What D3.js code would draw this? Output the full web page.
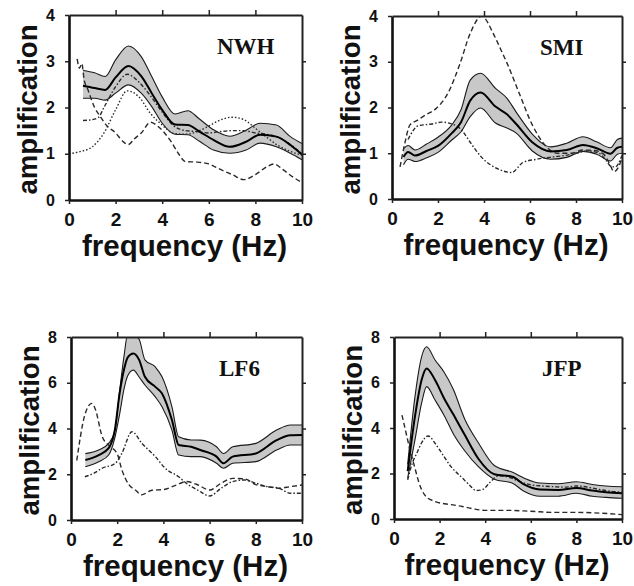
<!DOCTYPE html>
<html><head><meta charset="utf-8">
<script src="https://cdn.jsdelivr.net/npm/d3@7"></script>
<style>body{margin:0;background:#fff}svg{display:block}</style>
</head><body>
<svg id="c" width="634" height="586"></svg>
<script>
// ---------- tick labels ----------
const xTickValues = [0, 2, 4, 6, 8, 10];
const xTopTicks = [2, 4, 6, 8];
const yTicksSmall = [0, 1, 2, 3, 4];
const yTicksLarge = [0, 2, 4, 6, 8];
const stationNames = ["NWH", "SMI", "LF6", "JFP"];
const xTitle = "frequency (Hz)";
const yTitle = "amplification";

// ---------- NWH ----------
const nwhFreq  = [0.6, 1.1, 1.55, 2.0, 2.55, 3.1, 3.55, 4.0, 4.55, 5.1, 5.6, 6.2, 6.9, 7.6, 8.2, 8.9, 9.5, 10];
const nwhUpper = [2.8, 2.75, 2.67, 3.03, 3.33, 3.1, 2.67, 2.23, 1.86, 1.93, 1.75, 1.52, 1.38, 1.51, 1.66, 1.62, 1.37, 1.22];
const nwhMean  = [2.47, 2.42, 2.38, 2.65, 2.9, 2.68, 2.31, 1.95, 1.63, 1.62, 1.48, 1.3, 1.15, 1.26, 1.41, 1.37, 1.19, 0.98];
const nwhLower = [2.2, 2.2, 2.16, 2.31, 2.49, 2.31, 2.02, 1.66, 1.42, 1.41, 1.27, 1.08, 1.01, 1.08, 1.23, 1.15, 1.01, 0.87];
const nwhDotFreq = [0, 0.5, 1, 1.5, 2, 2.5, 3, 3.5, 4, 4.5, 5, 5.5, 6, 6.5, 7, 7.5, 8, 8.5, 9, 9.5, 10];
const nwhDot     = [1.0, 1.05, 1.15, 1.45, 1.95, 2.36, 2.23, 1.87, 1.62, 1.44, 1.42, 1.48, 1.6, 1.73, 1.79, 1.74, 1.55, 1.35, 1.17, 1.05, 0.97];
const nwhDashAFreq = [0.35, 0.45, 0.55, 0.65, 0.8, 1.1, 1.35, 1.6, 2.0, 2.35, 2.55, 2.8, 3.1, 3.5, 3.8, 4.1, 4.4, 4.7, 5.0, 5.5, 6.0, 6.5, 7.0, 7.5, 8.0, 8.5, 8.8, 9.2, 9.6, 10];
const nwhDashA     = [3.05, 2.85, 2.95, 2.6, 2.4, 2.0, 1.8, 1.62, 1.45, 1.25, 1.2, 1.32, 1.45, 1.68, 1.6, 1.45, 1.25, 1.0, 0.83, 0.82, 0.78, 0.66, 0.55, 0.44, 0.55, 0.72, 0.78, 0.65, 0.5, 0.38];
const nwhDashBFreq = [0.6, 0.9, 1.25, 1.5, 2.0, 2.5, 3.0, 3.5, 4.0, 4.5, 5.0, 5.5, 6.0, 6.5, 7.0, 7.5, 8.0, 8.5, 9.0, 9.5, 10];
const nwhDashB     = [1.72, 1.73, 1.78, 2.0, 2.45, 2.72, 2.55, 2.25, 1.9, 1.6, 1.5, 1.48, 1.45, 1.48, 1.5, 1.5, 1.45, 1.42, 1.35, 1.2, 1.0];

// ---------- SMI ----------
const smiFreq  = [0.5, 0.7, 1.0, 1.5, 2.0, 2.6, 3.0, 3.4, 3.85, 4.5, 5.0, 5.4, 6.1, 6.9, 7.6, 8.3, 8.9, 9.5, 9.8, 10];
const smiUpper = [1.1, 1.17, 1.07, 1.2, 1.35, 1.62, 1.95, 2.6, 2.75, 2.42, 2.2, 1.9, 1.42, 1.14, 1.22, 1.36, 1.25, 1.12, 1.3, 1.33];
const smiMean  = [0.92, 1.03, 0.95, 1.05, 1.16, 1.44, 1.68, 2.15, 2.33, 2.02, 1.85, 1.64, 1.24, 1.04, 1.07, 1.18, 1.11, 0.99, 1.12, 1.14];
const smiLower = [0.75, 0.87, 0.82, 0.9, 1.02, 1.29, 1.47, 1.8, 1.99, 1.66, 1.55, 1.44, 1.05, 0.87, 0.91, 1.04, 0.98, 0.83, 0.98, 1.0];
const smiDashAFreq = [0.35, 0.55, 0.78, 1.1, 1.5, 1.9, 2.45, 2.95, 3.4, 3.9, 4.4, 4.7, 5.0, 5.5, 6.1, 6.7, 7.2, 7.8, 8.3, 8.8, 9.2, 9.45, 9.65, 9.85, 10];
const smiDashA     = [0.7, 1.2, 1.62, 1.72, 1.85, 1.97, 2.33, 2.95, 3.62, 4.0, 3.62, 3.3, 2.97, 2.35, 1.62, 1.15, 1.0, 1.0, 1.07, 1.06, 0.98, 0.78, 0.6, 0.7, 0.9];
const smiDashBFreq = [0.7, 0.78, 1.14, 1.73, 2.16, 2.8, 3.1, 3.4, 3.9, 4.6, 5.2, 5.7, 6.3, 7.0, 7.5, 8.0, 8.5, 9.0, 9.3, 9.5, 9.7, 10];
const smiDashB     = [1.3, 1.38, 1.6, 1.64, 1.68, 1.6, 1.46, 1.24, 0.91, 0.66, 0.58, 0.8, 0.87, 0.92, 0.95, 1.0, 1.05, 1.0, 0.85, 0.72, 0.7, 0.95];

// ---------- LF6 ----------
const lf6Freq  = [0.62, 1.2, 1.63, 1.9, 2.1, 2.3, 2.45, 2.7, 2.95, 3.2, 3.65, 3.94, 4.37, 4.66, 5.2, 5.6, 6.3, 6.6, 7.0, 8.0, 8.9, 9.5, 10];
const lf6Upper = [2.9, 3.06, 3.35, 3.9, 5.6, 7.2, 8.1, 8.1, 7.9, 7.0, 6.69, 6.26, 4.95, 3.64, 3.5, 3.49, 3.2, 2.91, 3.2, 3.35, 3.93, 4.15, 4.15];
const lf6Mean  = [2.62, 2.84, 3.14, 3.95, 5.5, 6.6, 7.1, 7.28, 7.0, 6.26, 5.82, 5.53, 4.37, 3.28, 3.2, 3.06, 2.77, 2.48, 2.77, 2.91, 3.49, 3.71, 3.72];
const lf6Lower = [2.33, 2.55, 2.84, 3.6, 4.6, 5.75, 6.3, 6.55, 6.25, 5.9, 5.38, 4.95, 3.93, 2.84, 2.77, 2.77, 2.48, 2.26, 2.48, 2.55, 3.06, 3.28, 3.28];
const lf6DashAFreq = [0.25, 0.4, 0.6, 0.9, 1.05, 1.35, 1.65, 2.0, 2.2, 2.5, 2.8, 3.05, 3.5, 4.0, 4.5, 5.0, 5.5, 6.0, 6.5, 7.0, 7.5, 8.0, 8.5, 9.0, 9.5, 10];
const lf6DashA     = [2.6, 3.6, 4.6, 5.1, 4.85, 3.65, 3.25, 2.9, 2.2, 1.55, 1.3, 1.1, 1.3, 1.33, 1.5, 1.68, 1.53, 1.31, 1.61, 1.82, 1.8, 1.55, 1.46, 1.39, 1.46, 1.53];
const lf6DashBFreq = [0.6, 1.0, 1.34, 1.92, 2.2, 2.64, 3.07, 3.65, 4.08, 4.66, 5.0, 5.5, 6.0, 6.5, 7.0, 7.5, 8.0, 8.5, 9.0, 9.5, 10];
const lf6DashB     = [1.89, 2.05, 2.26, 2.48, 2.91, 3.86, 3.35, 2.77, 2.26, 1.89, 1.6, 1.3, 1.05, 1.39, 1.68, 1.75, 1.61, 1.46, 1.39, 1.17, 1.17];

// ---------- JFP ----------
const jfpFreq  = [0.6, 0.92, 1.21, 1.43, 1.8, 2.2, 2.6, 3.1, 3.7, 4.4, 5.2, 5.7, 6.4, 7.2, 8.0, 8.7, 9.3, 10];
const jfpUpper = [2.4, 5.38, 7.13, 7.57, 6.99, 6.45, 5.7, 4.4, 3.35, 2.35, 2.05, 1.8, 1.58, 1.55, 1.64, 1.52, 1.45, 1.42];
const jfpMean  = [2.1, 4.51, 6.11, 6.62, 6.11, 5.3, 4.6, 3.7, 2.65, 1.97, 1.86, 1.52, 1.3, 1.28, 1.36, 1.25, 1.18, 1.13];
const jfpLower = [1.8, 3.48, 5.09, 5.82, 5.23, 4.55, 3.75, 3.0, 2.3, 1.75, 1.57, 1.22, 1.0, 1.0, 1.13, 1.0, 0.95, 0.91];
const jfpDashAFreq = [0.35, 0.5, 0.7, 0.9, 1.1, 1.4, 1.8, 2.5, 3.0, 3.5, 4.0, 5.0, 6.0, 7.0, 8.0, 9.0, 10];
const jfpDashA     = [4.57, 3.91, 3.04, 2.31, 1.58, 0.99, 0.77, 0.63, 0.55, 0.44, 0.38, 0.38, 0.34, 0.29, 0.29, 0.26, 0.19];
const jfpDashBFreq = [0.6, 0.8, 1.0, 1.2, 1.5, 1.8, 2.0, 2.5, 3.0, 3.3, 3.6, 3.9, 4.2, 4.6, 5.0, 5.5, 6.0, 6.5, 7.0, 7.5, 8.0, 8.5, 9.0, 9.5, 10];
const jfpDashB     = [1.72, 2.45, 2.89, 3.33, 3.65, 3.33, 3.04, 2.3, 1.8, 1.5, 1.25, 1.3, 1.6, 1.9, 1.85, 1.65, 1.5, 1.45, 1.42, 1.4, 1.45, 1.4, 1.3, 1.22, 1.18];

// ---------- layout ----------
const panels = [
  {name: stationNames[0], yMax: 4, yTicks: yTicksSmall, box: {l: 69, r: 302, t: 15, b: 200},
   freq: nwhFreq, upper: nwhUpper, mean: nwhMean, lower: nwhLower,
   lines: [
     {f: nwhDotFreq, v: nwhDot, dash: "1.5,2"},
     {f: nwhDashAFreq, v: nwhDashA, dash: "5,3"},
     {f: nwhDashBFreq, v: nwhDashB, dash: "4,2,1.5,2"}]},
  {name: stationNames[1], yMax: 4, yTicks: yTicksSmall, box: {l: 392, r: 622, t: 16, b: 199},
   freq: smiFreq, upper: smiUpper, mean: smiMean, lower: smiLower,
   lines: [
     {f: smiDashAFreq, v: smiDashA, dash: "5,3"},
     {f: smiDashBFreq, v: smiDashB, dash: "4,2,1.5,2"}]},
  {name: stationNames[2], yMax: 8, yTicks: yTicksLarge, box: {l: 71, r: 302, t: 337, b: 520},
   freq: lf6Freq, upper: lf6Upper, mean: lf6Mean, lower: lf6Lower,
   lines: [
     {f: lf6DashAFreq, v: lf6DashA, dash: "5,3"},
     {f: lf6DashBFreq, v: lf6DashB, dash: "4,2,1.5,2"}]},
  {name: stationNames[3], yMax: 8, yTicks: yTicksLarge, box: {l: 394, r: 622, t: 337, b: 519},
   freq: jfpFreq, upper: jfpUpper, mean: jfpMean, lower: jfpLower,
   lines: [
     {f: jfpDashAFreq, v: jfpDashA, dash: "5,3"},
     {f: jfpDashBFreq, v: jfpDashB, dash: "4,2,1.5,2"}]}
];

const SANS = "'Liberation Sans', Arial, Helvetica, sans-serif";
const SERIF = "'Liberation Serif', 'Times New Roman', serif";
const svg = d3.select("#c");
const defs = svg.append("defs");

panels.forEach((p, i) => {
  const bx = p.box;
  const x = d3.scaleLinear().domain([0, 10]).range([bx.l, bx.r]);
  const y = d3.scaleLinear().domain([0, p.yMax]).range([bx.b, bx.t]);
  const g = svg.append("g");

  defs.append("clipPath").attr("id", "clip" + i)
    .append("rect").attr("x", bx.l).attr("y", bx.t)
    .attr("width", bx.r - bx.l).attr("height", bx.b - bx.t);
  const plot = g.append("g").attr("clip-path", `url(#clip${i})`);

  const band = p.freq.map((f, j) => ({f, lo: p.lower[j], hi: p.upper[j], m: p.mean[j]}));
  const cv = d3.curveMonotoneX;
  plot.append("path").datum(band)
    .attr("d", d3.area().x(d => x(d.f)).y0(d => y(d.lo)).y1(d => y(d.hi)).curve(cv))
    .attr("fill", "#c8c8c8");
  ["hi", "lo"].forEach(k => {
    plot.append("path").datum(band)
      .attr("d", d3.line().x(d => x(d.f)).y(d => y(d[k])).curve(cv))
      .attr("fill", "none").attr("stroke", "#1a1a1a").attr("stroke-width", 1.1);
  });

  p.lines.forEach(L => {
    const pts = L.f.map((f, j) => [f, L.v[j]]);
    plot.append("path").datum(pts)
      .attr("d", d3.line().x(d => x(d[0])).y(d => y(d[1])).curve(cv))
      .attr("fill", "none").attr("stroke", "#2a2a2a").attr("stroke-width", 1.4)
      .attr("stroke-dasharray", L.dash);
  });

  plot.append("path").datum(band)
    .attr("d", d3.line().x(d => x(d.f)).y(d => y(d.m)).curve(cv))
    .attr("fill", "none").attr("stroke", "#000").attr("stroke-width", 2);

  // axes
  const axL = g.append("g").attr("transform", `translate(${bx.l},0)`)
    .call(d3.axisLeft(y).tickValues(p.yTicks).tickSize(4).tickSizeOuter(0).tickPadding(10).tickFormat(d3.format("d")));
  const axB = g.append("g").attr("transform", `translate(0,${bx.b})`)
    .call(d3.axisBottom(x).tickValues(xTickValues).tickSize(4).tickSizeOuter(0).tickPadding(9).tickFormat(d3.format("d")));
  const axT = g.append("g").attr("transform", `translate(0,${bx.t})`)
    .call(d3.axisTop(x).tickValues(xTopTicks).tickSize(5).tickSizeOuter(0).tickFormat(""));
  const axR = g.append("g").attr("transform", `translate(${bx.r},0)`)
    .call(d3.axisRight(y).tickValues(p.yTicks.slice(1, -1)).tickSize(4).tickSizeOuter(0).tickFormat(""));

  [axL, axB].forEach(a => a.select(".domain").attr("stroke", "#111").attr("stroke-width", 2.6));
  [axT, axR].forEach(a => a.select(".domain").attr("stroke", "#222").attr("stroke-width", 2));
  [axL, axB, axT, axR].forEach(a => a.selectAll(".tick line").attr("stroke", "#222").attr("stroke-width", 1.5));
  axL.selectAll("text").attr("font-family", SANS).attr("font-weight", "bold")
    .attr("font-size", 16).attr("fill", "#111");
  axB.selectAll("text").attr("font-family", SANS).attr("font-weight", "bold")
    .attr("font-size", 19).attr("fill", "#111");
  [axL, axB, axT, axR].forEach(a => a.attr("font-family", null).attr("font-size", null));

  // station name
  g.append("text").attr("x", bx.l + 148).attr("y", bx.t + 39)
    .attr("font-family", SERIF).attr("font-weight", "bold").attr("font-size", 23)
    .attr("fill", "#111").text(p.name);

  // axis titles
  g.append("text")
    .attr("transform", `translate(${bx.l - 32},${(bx.t + bx.b) / 2 + 2}) rotate(-90)`)
    .attr("text-anchor", "middle").attr("font-family", SANS).attr("font-weight", "bold")
    .attr("font-size", 28).attr("textLength", 170).attr("lengthAdjust", "spacingAndGlyphs")
    .attr("fill", "#111").text(yTitle);
  g.append("text")
    .attr("x", (bx.l + bx.r) / 2 - 1).attr("y", bx.b + 56)
    .attr("text-anchor", "middle").attr("font-family", SANS).attr("font-weight", "bold")
    .attr("font-size", 30).attr("textLength", 205).attr("lengthAdjust", "spacingAndGlyphs")
    .attr("fill", "#111").text(xTitle);
});
</script>
</body></html>
